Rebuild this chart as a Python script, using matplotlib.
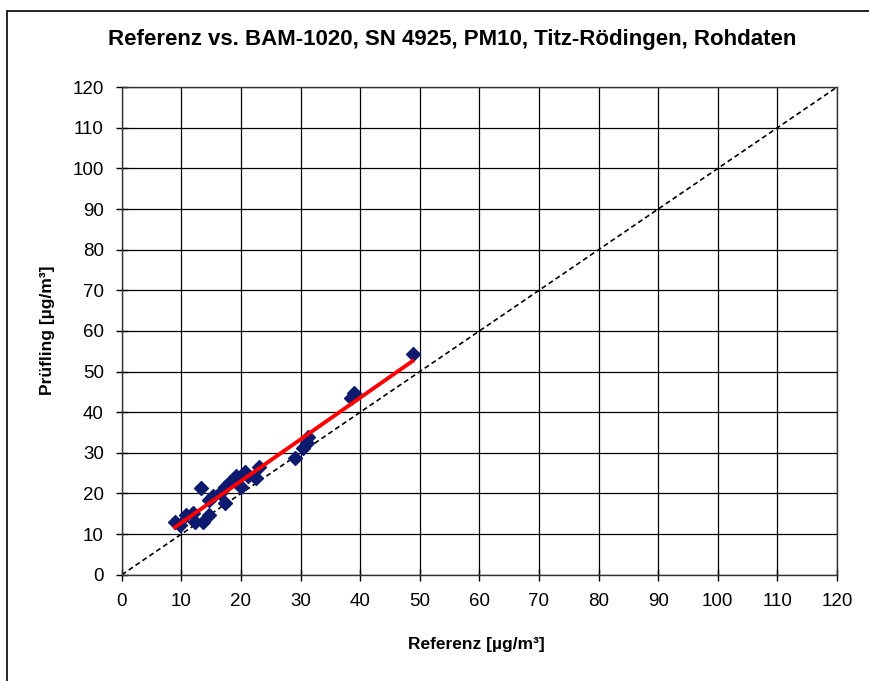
import numpy as np
import matplotlib.pyplot as plt
from matplotlib.patches import Rectangle

plt.rcParams['font.family'] = ['Liberation Sans', 'DejaVu Sans']

# Referenz vs. Pruefling
referenz = [8.9, 9.7, 10.8, 11.9, 12.2, 13.6, 14.7, 13.3, 14.7, 15.3, 16.4,
            17.3, 17.3, 18.1, 19.2, 20.0, 20.6, 21.2, 22.6, 23.1, 29.0,
            30.4, 31.0, 31.2, 38.5, 39.0, 48.8]
pruefling = [13.1, 12.3, 14.8, 15.2, 13.1, 13.1, 14.8, 21.3, 18.5, 19.3, 20.1,
             21.7, 17.6, 22.9, 24.3, 21.7, 25.4, 24.2, 23.8, 26.6, 28.7,
             31.1, 32.4, 34.0, 43.4, 44.7, 54.3]
ticks = list(range(0, 121, 10))

x = np.array(referenz)
y = np.array(pruefling)
slope, icpt = np.polyfit(x, y, 1)

fig = plt.figure(figsize=(8.70, 6.81), dpi=100)
fig.patches.append(Rectangle((7 / 870, -0.05), 1.1, 1 - 11 / 681 + 0.05,
                             transform=fig.transFigure, fill=False,
                             edgecolor='black', linewidth=1.2))
ax = fig.add_axes([0.140, 0.156, 0.822, 0.716])

ax.plot([0, 120], [0, 120], linestyle=(0, (3, 2)), color='black', linewidth=1.2, zorder=2)
ax.scatter(x, y, marker='D', s=50, color='#0d1a6e', edgecolors='#0d1a6e', zorder=3)
xf = np.array([x.min(), x.max()])
ax.plot(xf, slope * xf + icpt, color='#ff0000', linewidth=2.8, zorder=4)

ax.set_xlim(0, 120)
ax.set_ylim(0, 120)
ax.set_xticks(ticks)
ax.set_yticks(ticks)
ax.grid(True, color='black', linewidth=0.9)
ax.set_axisbelow(True)
for s in ax.spines.values():
    s.set_linewidth(1.0)
    s.set_color('#333333')
ax.tick_params(direction='inout', length=8, width=1.0, labelsize=13.5)
ax.tick_params(axis='x', pad=9)
ax.tick_params(axis='y', pad=9)

fig.text(452 / 870, 1 - 40 / 681,
         'Referenz vs. BAM-1020, SN 4925, PM10, Titz-Rödingen, Rohdaten',
         fontsize=16, fontweight='bold', ha='center', va='center')
fig.text(476 / 870, 1 - 645 / 681, 'Referenz [µg/m³]', fontsize=12.5,
         fontweight='bold', ha='center', va='center')
fig.text(48 / 870, 1 - 330 / 681, 'Prüfling [µg/m³]', fontsize=12.5,
         fontweight='bold', ha='center', va='center', rotation=90)

fig.savefig('out.png', dpi=100)
